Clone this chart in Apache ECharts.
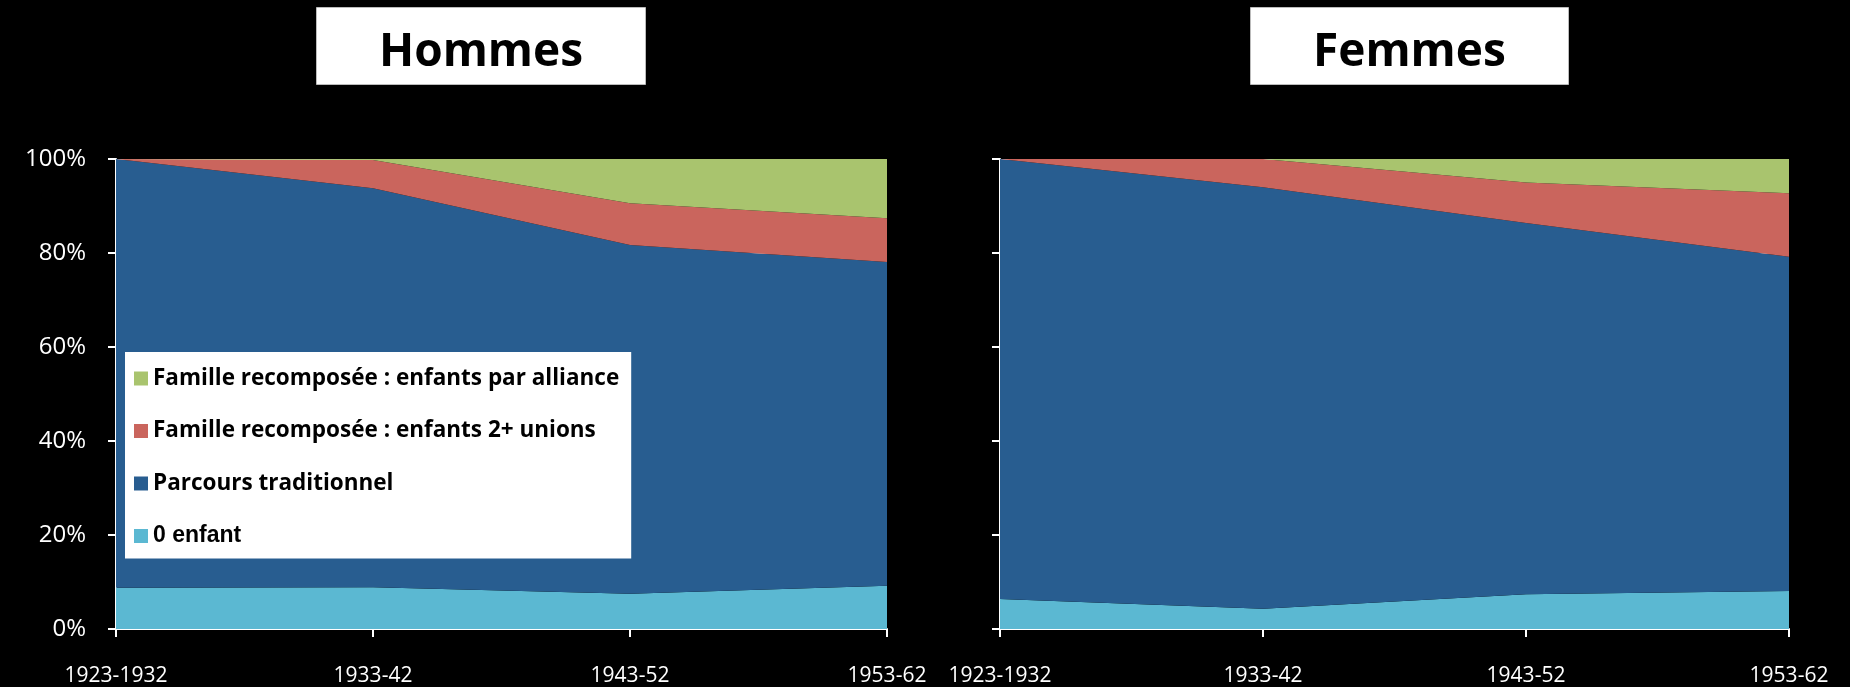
<!DOCTYPE html>
<html>
<head>
<meta charset="utf-8">
<script src="https://cdn.jsdelivr.net/npm/echarts@6/dist/echarts.min.js"></script>
<style>
html,body{margin:0;padding:0;background:#000;}
#chart{width:1850px;height:687px;}
</style>
</head>
<body>
<div id="chart"></div>
<script>
const categories = ['1923-1932', '1933-42', '1943-52', '1953-62'];
const seriesNames = ['0 enfant', 'Parcours traditionnel', 'Famille recomposée : enfants 2+ unions', 'Famille recomposée : enfants par alliance'];
const hommesZero = [8.8, 8.9, 7.5, 9.2];
const hommesTrad = [91.2, 84.9, 74.2, 68.9];
const hommesUnions = [0, 6.0, 8.9, 9.3];
const hommesAlliance = [0, 0.2, 9.4, 12.6];
const femmesZero = [6.4, 4.3, 7.4, 8.1];
const femmesTrad = [93.6, 89.7, 79.0, 71.1];
const femmesUnions = [0, 6.0, 8.6, 13.5];
const femmesAlliance = [0, 0, 5.0, 7.3];
const panelTitles = ['Hommes', 'Femmes'];

const colors = ['#5BB8D2', '#285D90', '#CA655D', '#A9C46E'];

function makeSeries(dataArr, idx, stackName) {
  return dataArr.map((d, i) => ({
    name: seriesNames[i],
    type: 'line',
    stack: stackName,
    xAxisIndex: idx,
    yAxisIndex: idx,
    data: d,
    symbol: 'none',
    lineStyle: {width: 0},
    areaStyle: {color: colors[i], opacity: 1},
    itemStyle: {color: colors[i]},
    emphasis: {disabled: true}
  }));
}

function xAx(gi) {
  return {
    type: 'category', gridIndex: gi, data: categories, boundaryGap: false,
    axisLine: {lineStyle: {color: '#fff', width: 2}},
    axisTick: {lineStyle: {color: '#fff', width: 2}, length: 8},
    axisLabel: {color: '#fff', fontSize: 21, fontFamily: 'Open Sans', margin: 37, interval: 0}
  };
}
function yAx(gi, showLabel) {
  return {
    type: 'value', gridIndex: gi, min: 0, max: 100, interval: 20,
    axisLine: {show: true, lineStyle: {color: '#fff', width: 2}},
    axisTick: {show: true, lineStyle: {color: '#fff', width: 2}, length: 8},
    splitLine: {show: true, lineStyle: {color: '#d9d9d9', width: 1}},
    axisLabel: {show: showLabel, color: '#fff', fontSize: 24, fontFamily: 'Open Sans', margin: 30, formatter: '{value}%'}
  };
}

const chart = echarts.init(document.getElementById('chart'));
chart.setOption({
  backgroundColor: '#000',
  animation: false,
  title: [
    {text: panelTitles[0], left: 316, top: 7, backgroundColor: '#fff', borderColor: '#bbb', borderWidth: 1,
     padding: [23, 63, 9, 63],
     textStyle: {color: '#000', fontSize: 46, fontWeight: 'bold', fontFamily: 'Open Sans', width: 201, align: 'center'}},
    {text: panelTitles[1], left: 1250, top: 7, backgroundColor: '#fff', borderColor: '#bbb', borderWidth: 1,
     padding: [23, 63, 9, 63],
     textStyle: {color: '#000', fontSize: 46, fontWeight: 'bold', fontFamily: 'Open Sans', width: 201, align: 'center'}}
  ],
  legend: {
    data: [seriesNames[3], seriesNames[2], seriesNames[1], seriesNames[0]],
    orient: 'vertical',
    left: 125, top: 352,
    backgroundColor: '#fff',
    padding: [15, 12, 11, 9],
    itemWidth: 14, itemHeight: 14, itemGap: 29.5,
    icon: 'rect',
    selectedMode: false,
    formatter: function (n) { return n === '0 enfant' ? '{b|' + n + '}' : '{a|' + n + '}'; },
    textStyle: {
      color: '#000',
      rich: {
        a: {fontSize: 22.5, fontWeight: 'bold', fontFamily: 'Open Sans', color: '#000'},
        b: {fontSize: 23, fontWeight: 'bold', fontFamily: 'Liberation Sans', color: '#000'}
      }
    }
  },
  grid: [
    {left: 116, right: 963, top: 159, bottom: 58},
    {left: 1000, right: 61, top: 159, bottom: 58}
  ],
  xAxis: [xAx(0), xAx(1)],
  yAxis: [yAx(0, true), yAx(1, false)],
  series: [
    ...makeSeries([hommesZero, hommesTrad, hommesUnions, hommesAlliance], 0, 'h'),
    ...makeSeries([femmesZero, femmesTrad, femmesUnions, femmesAlliance], 1, 'f')
  ]
});
</script>
</body>
</html>
